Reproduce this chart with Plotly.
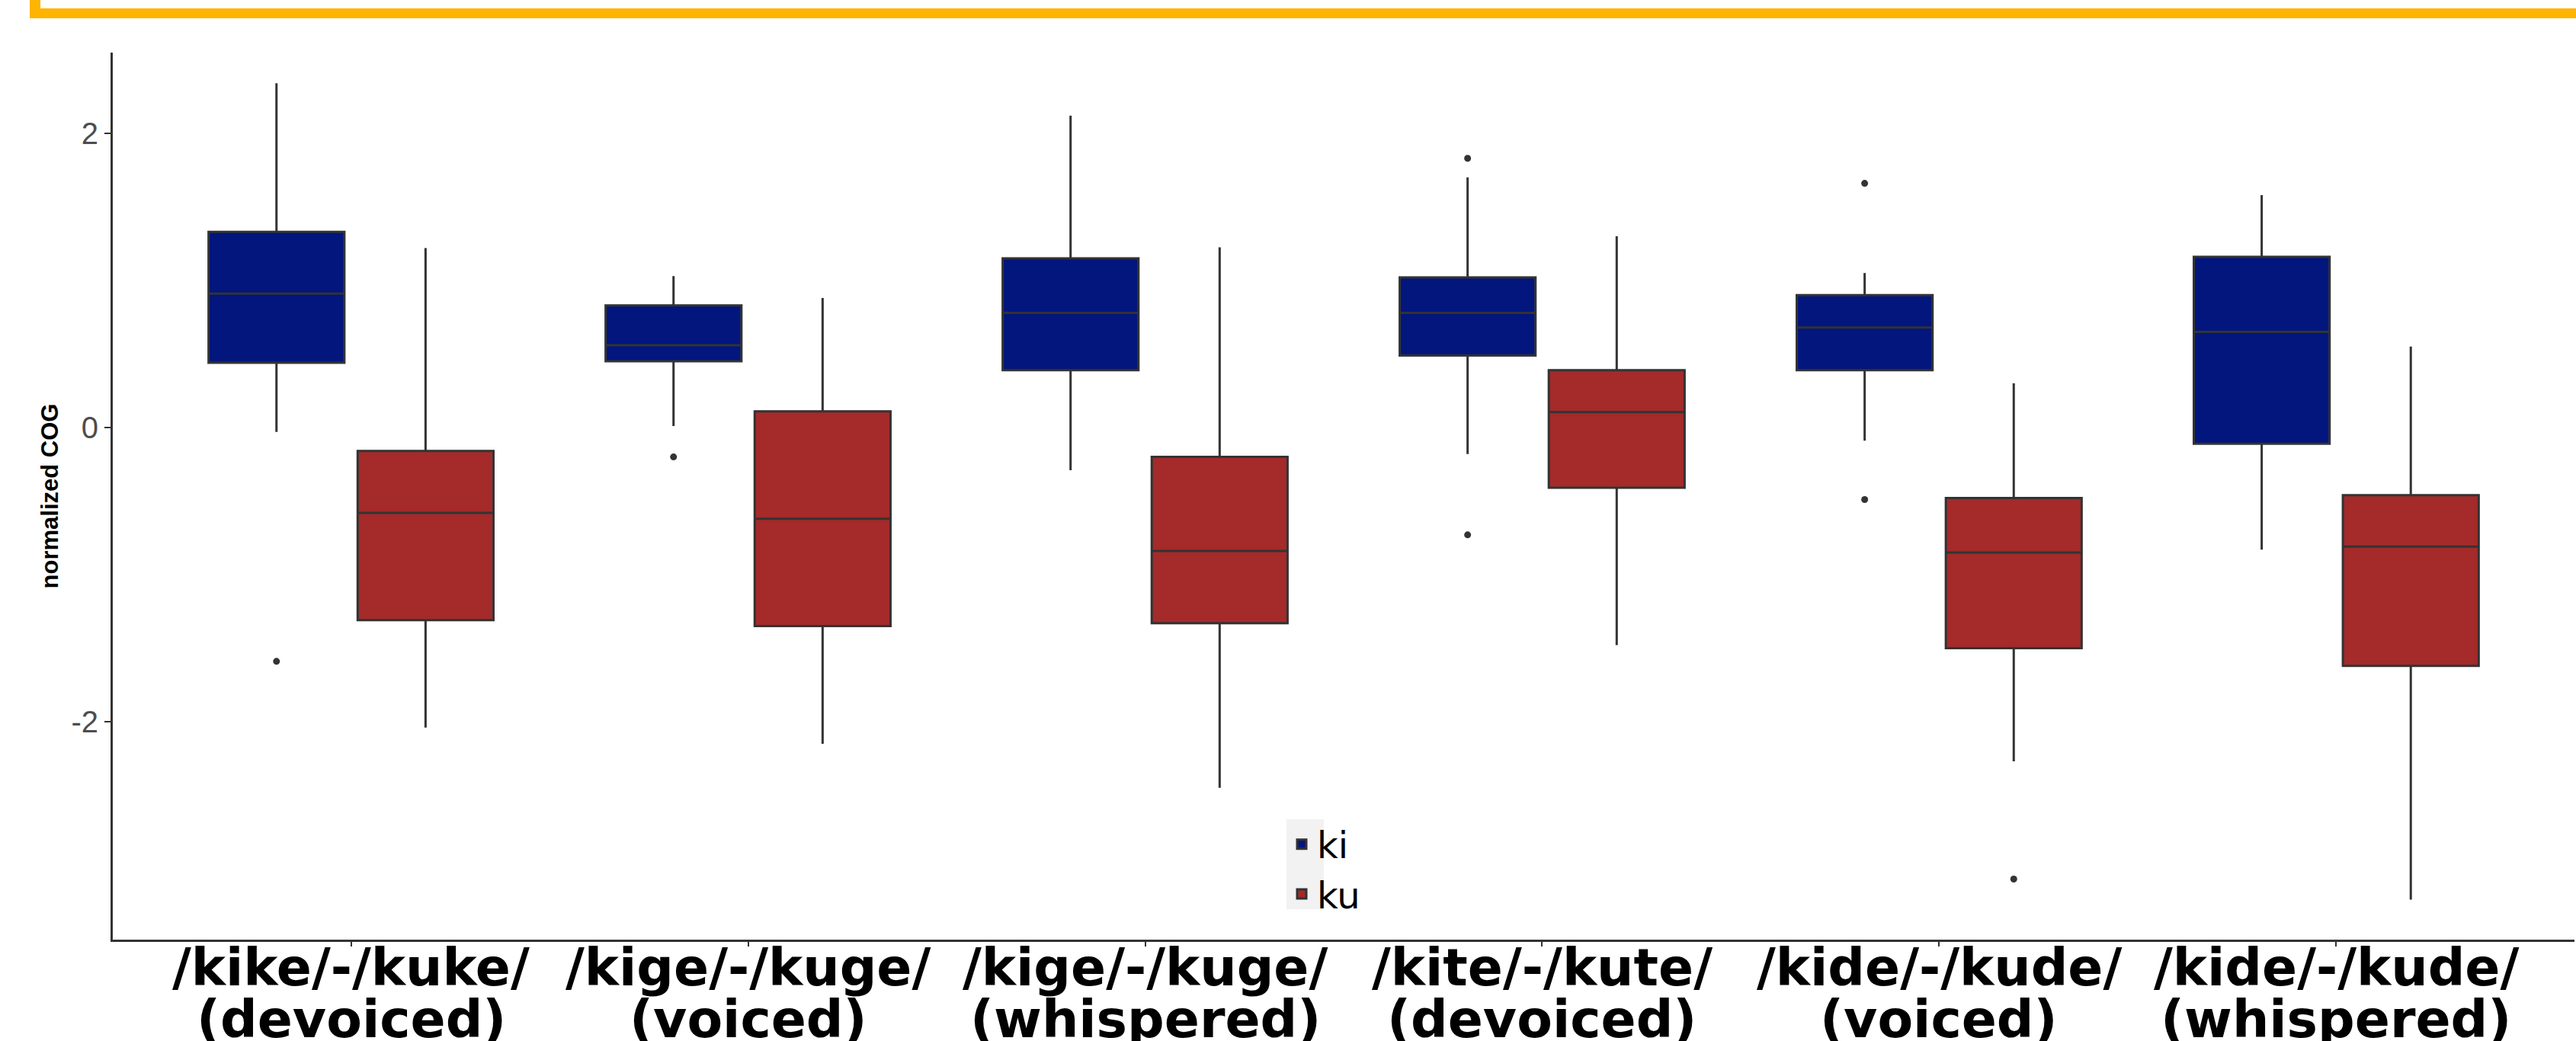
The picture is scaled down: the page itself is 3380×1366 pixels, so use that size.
import plotly.graph_objects as go

# ---------------- data ----------------
positions = [0, 1, 2, 3, 4, 5]
label_line1 = ["/kike/-/kuke/", "/kige/-/kuge/", "/kige/-/kuge/",
               "/kite/-/kute/", "/kide/-/kude/", "/kide/-/kude/"]
label_line2 = ["(devoiced)", "(voiced)", "(whispered)",
               "(devoiced)", "(voiced)", "(whispered)"]

ki_lower = [-0.03, 0.01, -0.29, -0.18, -0.09, -0.83]
ki_q1 = [0.44, 0.45, 0.39, 0.49, 0.39, -0.11]
ki_median = [0.91, 0.56, 0.78, 0.78, 0.68, 0.65]
ki_q3 = [1.33, 0.83, 1.15, 1.02, 0.90, 1.16]
ki_upper = [2.34, 1.03, 2.12, 1.70, 1.05, 1.58]
ki_outliers = [[-1.59], [-0.20], [], [1.83, -0.73], [1.66, -0.49], []]

ku_lower = [-2.04, -2.15, -2.45, -1.48, -2.27, -3.21]
ku_q1 = [-1.31, -1.35, -1.33, -0.41, -1.50, -1.62]
ku_median = [-0.58, -0.62, -0.84, 0.105, -0.85, -0.81]
ku_q3 = [-0.16, 0.11, -0.20, 0.39, -0.48, -0.46]
ku_upper = [1.22, 0.88, 1.225, 1.30, 0.30, 0.55]
ku_outliers = [[], [], [], [], [-3.07], []]

y_tickvals = [-2, 0, 2]
y_ticktext = ["-2", "0", "2"]

series = [
    ("ki", "#02167E", ki_lower, ki_q1, ki_median, ki_q3, ki_upper, ki_outliers),
    ("ku", "#A52A2A", ku_lower, ku_q1, ku_median, ku_q3, ku_upper, ku_outliers),
]

# ---------------- figure ----------------
W, H = 3380, 1366
ML, MR, MT, MB = 148, 2, 69, 133

fig = go.Figure()
for name, color, lf, q1, med, q3, uf, outs in series:
    # sample points per box: whisker-end observations plus the outliers
    samples = [[lo, hi] + o for lo, hi, o in zip(lf, uf, outs)]
    fig.add_trace(go.Box(
        name=name,
        x=positions,
        y=samples,
        q1=q1, median=med, q3=q3,
        lowerfence=lf, upperfence=uf,
        fillcolor=color,
        line=dict(color="#333333", width=3),
        whiskerwidth=0,
        boxpoints="outliers",
        jitter=0, pointpos=0,
        marker=dict(color="#333333", size=9,
                    line=dict(width=0), outliercolor="#333333"),
    ))

label_font = dict(family="DejaVu Sans", size=68, color="black", weight="bold")
annotations = []
for p, t1, t2 in zip(positions, label_line1, label_line2):
    annotations.append(dict(x=p, y=0, xref="x", yref="paper", text=t1,
                            showarrow=False, yanchor="top", xanchor="center",
                            yshift=5, font=label_font))
    annotations.append(dict(x=p, y=0, xref="x", yref="paper", text=t2,
                            showarrow=False, yanchor="top", xanchor="center",
                            yshift=-63, font=label_font))

pw = W - ML - MR
ph = H - MT - MB


def px_x(px):
    return (px - ML) / pw


def px_y(py):
    return (H - MB - py) / ph


orange = "#FFB400"
shapes = [
    dict(type="rect", xref="paper", yref="paper",
         x0=px_x(39), x1=px_x(W + 5), y0=px_y(24), y1=px_y(11),
         fillcolor=orange, line=dict(width=0), layer="above"),
    dict(type="rect", xref="paper", yref="paper",
         x0=px_x(39), x1=px_x(53), y0=px_y(24), y1=px_y(-5),
         fillcolor=orange, line=dict(width=0), layer="above"),
    # grey legend-key background
    dict(type="rect", xref="paper", yref="paper",
         x0=px_x(1688), x1=px_x(1737), y0=px_y(1193), y1=px_y(1075),
         fillcolor="#F2F2F2", line=dict(width=0), layer="below"),
]

fig.update_layout(
    width=W, height=H,
    margin=dict(l=ML, r=MR, t=MT, b=MB, autoexpand=False),
    paper_bgcolor="white", plot_bgcolor="white",
    boxmode="group", boxgap=0.249, boxgroupgap=0.089,
    font=dict(family="Liberation Sans", color="#333333"),
    showlegend=True,
    legend=dict(x=px_x(1688), xanchor="left", y=px_y(1070), yanchor="top",
                bgcolor="rgba(0,0,0,0)",
                font=dict(family="DejaVu Sans", size=48, color="black"),
                tracegroupgap=0, itemwidth=30),
    annotations=annotations,
    shapes=shapes,
)

fig.update_xaxes(
    range=[-0.6, 5.6], tickvals=positions, showticklabels=False,
    showline=True, linecolor="#333333", linewidth=3,
    ticks="outside", ticklen=6, tickwidth=2, tickcolor="#333333",
    showgrid=False, zeroline=False,
)
fig.update_yaxes(
    range=[-3.482, 2.549], tickvals=y_tickvals, ticktext=y_ticktext,
    showline=True, linecolor="#333333", linewidth=3,
    ticks="outside", ticklen=8, tickwidth=2, tickcolor="#333333",
    tickfont=dict(family="Liberation Sans", size=40, color="#4D4D4D"),
    showgrid=False, zeroline=False,
    title=dict(text="normalized COG", standoff=8,
               font=dict(family="Liberation Sans", size=31,
                         color="black", weight="bold")),
)

fig.write_html(
    "out.html",
    config={"displayModeBar": False},
    post_script="document.body.style.margin='0';"
                "document.body.style.overflow='hidden';",
)
